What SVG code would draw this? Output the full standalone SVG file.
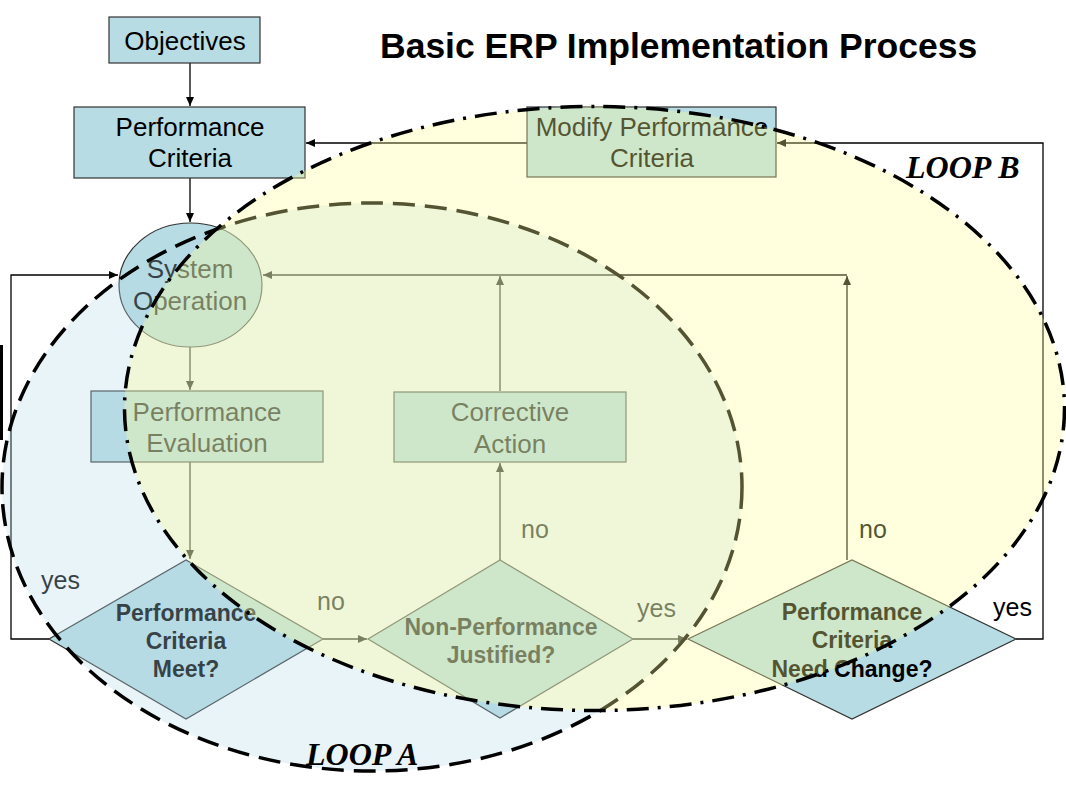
<svg xmlns="http://www.w3.org/2000/svg" width="1066" height="791" viewBox="0 0 1066 791">
<style>
.box{fill:#B7DCE3;stroke:#333;stroke-width:1.2}
.t{font-family:"Liberation Sans",Arial,sans-serif;font-size:26px;fill:#000;text-anchor:middle}
.tb{font-family:"Liberation Sans",Arial,sans-serif;font-size:23px;font-weight:bold;fill:#000;text-anchor:middle}
.lbl{font-family:"Liberation Sans",Arial,sans-serif;font-size:25px;fill:#000}
.loop{font-family:"Liberation Serif","Times New Roman",serif;font-size:32px;font-weight:bold;font-style:italic;fill:#000}
.c{fill:none;stroke:#000;stroke-width:1.3}
</style>
<defs>
<marker id="ah" markerUnits="userSpaceOnUse" markerWidth="10" markerHeight="8" refX="9" refY="4" orient="auto">
<path d="M0,0 L9,4 L0,8 Z" fill="#000"/>
</marker>
</defs>
<rect x="0" y="0" width="1066" height="791" fill="#fff"/>
<text x="380" y="58" style="font-family:'Liberation Sans',Arial,sans-serif;font-size:35.5px;font-weight:bold;fill:#000">Basic ERP Implementation Process</text>

<g id="connectors">
<path class="c" d="M190,63 V106" marker-end="url(#ah)"/>
<path class="c" d="M190,178 V222" marker-end="url(#ah)"/>
<path class="c" d="M190,347 V390" marker-end="url(#ah)"/>
<path class="c" d="M190,462 V559" marker-end="url(#ah)"/>
<path class="c" d="M323,639 H367" marker-end="url(#ah)"/>
<path class="c" d="M500,560 V463" marker-end="url(#ah)"/>
<path class="c" d="M500,391 V276" marker-end="url(#ah)"/>
<path class="c" d="M633,639 H687" marker-end="url(#ah)"/>
<path class="c" d="M847,560 V276" marker-end="url(#ah)"/>
<path class="c" d="M847,275 H263" marker-end="url(#ah)"/>
<path class="c" d="M1016,639 H1043 V143 H777" marker-end="url(#ah)"/>
<path class="c" d="M527,143 H306" marker-end="url(#ah)"/>
<path class="c" d="M49,639 H11 V275 H118" marker-end="url(#ah)"/>
</g>

<g id="objectives">
<rect class="box" x="109" y="17" width="151" height="46"/>
<text class="t" x="185" y="50">Objectives</text>
</g>
<g id="performance-criteria">
<rect class="box" x="74" y="107" width="231" height="71"/>
<text class="t" x="190" y="136">Performance</text>
<text class="t" x="190" y="167">Criteria</text>
</g>
<g id="system-operation">
<ellipse class="box" cx="190.5" cy="285" rx="71.5" ry="62"/>
<text class="t" x="190" y="278">System</text>
<text class="t" x="190" y="310">Operation</text>
</g>
<g id="performance-evaluation">
<rect class="box" x="91" y="391" width="232" height="71"/>
<text class="t" x="207" y="421">Performance</text>
<text class="t" x="207" y="452">Evaluation</text>
</g>
<g id="corrective-action">
<rect class="box" x="394" y="392" width="232" height="70"/>
<text class="t" x="510" y="421">Corrective</text>
<text class="t" x="510" y="453">Action</text>
</g>
<g id="modify-performance-criteria">
<rect class="box" x="527" y="107" width="249" height="70"/>
<text class="t" x="652" y="136">Modify Performance</text>
<text class="t" x="652" y="167">Criteria</text>
</g>
<g id="criteria-meet">
<polygon class="box" points="49,639 186,560 323,639 186,719"/>
<text class="tb" x="186" y="621">Performance</text>
<text class="tb" x="186" y="649">Criteria</text>
<text class="tb" x="186" y="677">Meet?</text>
</g>
<g id="non-performance-justified">
<polygon class="box" points="368,639 500,560 633,639 500,718"/>
<text class="tb" x="501" y="635">Non-Performance</text>
<text class="tb" x="501" y="663">Justified?</text>
</g>
<g id="criteria-need-change">
<polygon class="box" points="688,639 852,560 1016,639 852,719"/>
<text class="tb" x="852" y="620">Performance</text>
<text class="tb" x="852" y="648">Criteria</text>
<text class="tb" x="852" y="677">Need Change?</text>
</g>

<g id="edge-labels">
<text class="lbl" x="41" y="589">yes</text>
<text class="lbl" x="317" y="610">no</text>
<text class="lbl" x="521" y="538">no</text>
<text class="lbl" x="637" y="617">yes</text>
<text class="lbl" x="859" y="538">no</text>
<text class="lbl" x="993" y="616">yes</text>
</g>

<path d="M1.5,345 V440" stroke="#000" stroke-width="3" fill="none"/>

<g id="loop-a">
<ellipse cx="372" cy="487" rx="370" ry="284" fill="#B7DCE8" fill-opacity="0.3" stroke="#000" stroke-width="3.5" stroke-dasharray="22 10"/>
</g>
<g id="loop-b">
<ellipse cx="594.5" cy="408.5" rx="470" ry="302" fill="#FFFF99" fill-opacity="0.33" stroke="#000" stroke-width="3.5" stroke-dasharray="22 9 3 9"/>
</g>
<text class="loop" x="906" y="178">LOOP B</text>
<text class="loop" x="306" y="765">LOOP A</text>
</svg>
